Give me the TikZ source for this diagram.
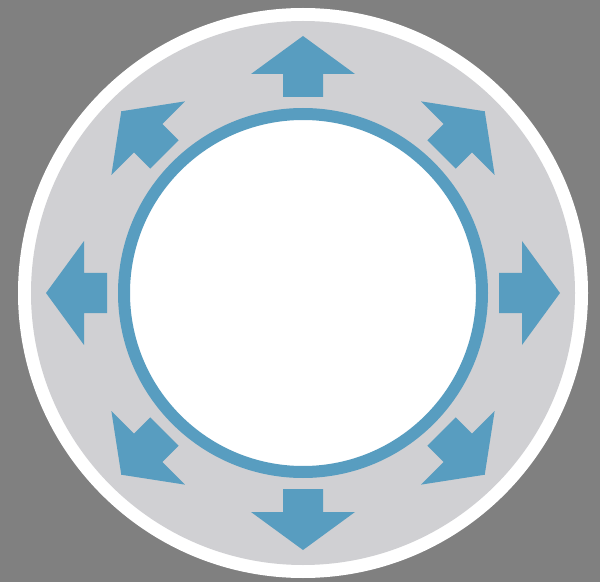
\documentclass[tikz,border=0pt]{standalone}
\definecolor{bggray}{RGB}{128,128,128}
\definecolor{ringgray}{RGB}{208,208,211}
\definecolor{arrowblue}{RGB}{88,157,192}
\tikzset{
  dirarrow/.style={fill=arrowblue},
  bluering/.style={draw=arrowblue, line width=12pt, fill=white}
}
\begin{document}
\begin{tikzpicture}[x=1pt,y=1pt]
  \fill[bggray] (0,0) rectangle (600,582);
  \useasboundingbox (0,0) rectangle (600,582);
  \coordinate (c) at (303,289);
  \fill[white] (c) circle (285);
  \fill[ringgray] (c) circle (272);
  \draw[bluering] (c) circle (179);
  \foreach \a in {0,45,...,315}{
    \fill[dirarrow, shift={(c)}, rotate=\a]
      (196,-20) -- (219,-20) -- (219,-52) -- (257,0) -- (219,52) -- (219,20) -- (196,20) -- cycle;
  }
\end{tikzpicture}
\end{document}
